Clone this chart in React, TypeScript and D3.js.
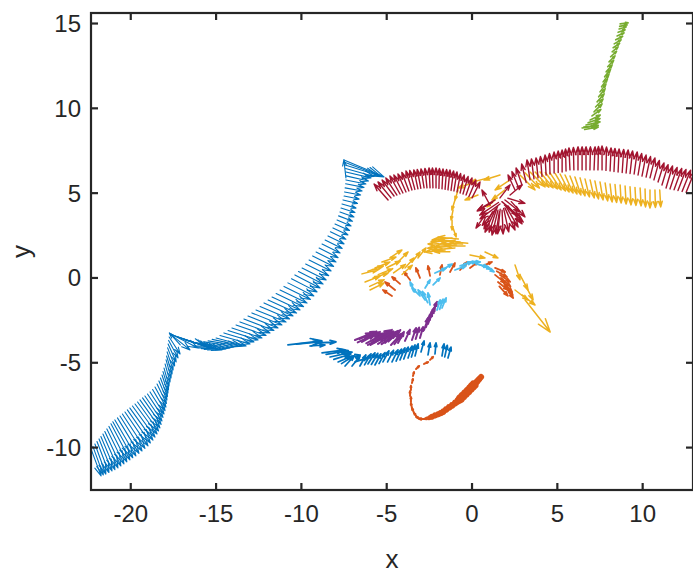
import React from "react";
import * as d3 from "d3";

const W = 693;
const H = 573;

const X_DOMAIN: [number, number] = [-22.33, 12.95];
const Y_DOMAIN: [number, number] = [-12.5, 15.62];
const X_TICKS = [-20, -15, -10, -5, 0, 5, 10];
const Y_TICKS = [-10, -5, 0, 5, 10, 15];
const X_LABEL = "x";
const Y_LABEL = "y";

type Q = [number, number, number, number]; // x, y, u, v

const blueMain: Q[] = [
  [-22.33, -10.08, 0.59, -1.59], [-22.22, -9.93, 0.61, -1.68], [-22.1, -9.79, 0.64, -1.77],
  [-21.98, -9.64, 0.7, -1.83], [-21.86, -9.49, 0.76, -1.89], [-21.75, -9.35, 0.82, -1.95],
  [-21.63, -9.2, 0.88, -2.0], [-21.52, -9.05, 0.94, -2.03], [-21.4, -8.9, 1.0, -2.06],
  [-21.28, -8.75, 1.05, -2.09], [-21.16, -8.6, 1.11, -2.12], [-21.05, -8.48, 1.17, -2.12],
  [-20.93, -8.37, 1.23, -2.12], [-20.78, -8.25, 1.26, -2.09], [-20.63, -8.14, 1.29, -2.06],
  [-20.49, -8.02, 1.32, -2.03], [-20.34, -7.9, 1.35, -2.0], [-20.2, -7.78, 1.35, -1.95],
  [-20.05, -7.67, 1.35, -1.89], [-19.9, -7.55, 1.32, -1.83], [-19.75, -7.43, 1.29, -1.77],
  [-19.6, -7.31, 1.23, -1.71], [-19.46, -7.19, 1.17, -1.65], [-19.31, -7.07, 1.09, -1.56],
  [-19.17, -6.96, 1.0, -1.47], [-19.02, -6.84, 0.91, -1.38], [-18.87, -6.72, 0.82, -1.3],
  [-18.72, -6.58, 0.73, -1.24], [-18.58, -6.43, 0.64, -1.18], [-18.46, -6.25, 0.55, -1.15],
  [-18.35, -6.07, 0.47, -1.12], [-18.26, -5.9, 0.41, -1.09], [-18.17, -5.72, 0.35, -1.06],
  [-18.11, -5.52, 0.32, -1.06], [-18.05, -5.31, 0.29, -1.06], [-17.99, -5.07, 0.29, -1.06],
  [-17.93, -4.83, 0.29, -1.06], [-17.9, -4.6, 0.32, -1.06], [-17.87, -4.36, 0.35, -1.06],
  [-17.84, -4.12, 0.41, -1.06], [-17.81, -3.89, 0.47, -1.06], [-17.78, -3.68, 0.55, -1.03],
  [-17.75, -3.48, 0.64, -1.0], [-17.1, -3.95, -0.64, 0.71],
  [-17.7, -3.3, 1.17, -0.94], [-17.64, -3.3, 1.58, -0.83], [-17.58, -3.36, 1.93, -0.65],
  [-17.4, -3.42, 1.9, -0.65], [-17.23, -3.48, 1.88, -0.65], [-17.02, -3.57, 1.82, -0.59],
  [-16.82, -3.66, 1.76, -0.53], [-16.62, -3.72, 1.76, -0.5], [-16.41, -3.77, 1.76, -0.47],
  [-16.18, -3.8, 1.76, -0.38], [-15.94, -3.83, 1.76, -0.29], [-15.7, -3.77, 1.76, -0.29],
  [-15.47, -3.71, 1.76, -0.29], [-15.23, -3.62, 1.76, -0.38], [-15.0, -3.54, 1.76, -0.47],
  [-14.77, -3.39, 1.76, -0.5], [-14.54, -3.24, 1.76, -0.53], [-14.3, -3.1, 1.76, -0.56],
  [-14.07, -2.95, 1.76, -0.59], [-13.83, -2.77, 1.76, -0.62], [-13.6, -2.59, 1.76, -0.65],
  [-13.37, -2.42, 1.76, -0.68], [-13.13, -2.24, 1.76, -0.71], [-12.9, -2.06, 1.76, -0.71],
  [-12.66, -1.89, 1.76, -0.71], [-12.42, -1.68, 1.73, -0.74], [-12.19, -1.47, 1.7, -0.77],
  [-11.95, -1.3, 1.67, -0.77], [-11.72, -1.12, 1.64, -0.77], [-11.48, -0.92, 1.61, -0.77],
  [-11.25, -0.71, 1.58, -0.77], [-11.02, -0.5, 1.55, -0.77], [-10.79, -0.29, 1.52, -0.77],
  [-10.58, -0.05, 1.5, -0.77], [-10.38, 0.18, 1.47, -0.77], [-10.17, 0.38, 1.44, -0.74],
  [-9.96, 0.59, 1.41, -0.71], [-9.75, 0.82, 1.35, -0.68], [-9.55, 1.06, 1.29, -0.65],
  [-9.34, 1.3, 1.23, -0.62], [-9.14, 1.53, 1.17, -0.59], [-8.96, 1.76, 1.11, -0.56],
  [-8.79, 2.0, 1.06, -0.53], [-8.61, 2.24, 1.0, -0.5], [-8.44, 2.48, 0.94, -0.47],
  [-8.3, 2.72, 0.91, -0.44], [-8.15, 2.95, 0.88, -0.41], [-8.03, 3.18, 0.85, -0.38],
  [-7.91, 3.42, 0.82, -0.35], [-7.82, 3.66, 0.82, -0.32], [-7.74, 3.89, 0.82, -0.29],
  [-7.68, 4.12, 0.82, -0.26], [-7.62, 4.36, 0.82, -0.24], [-7.56, 4.6, 0.85, -0.21],
  [-7.5, 4.83, 0.88, -0.18], [-7.47, 5.07, 0.94, -0.18], [-7.44, 5.31, 1.0, -0.18],
  [-7.41, 5.55, 1.08, -0.21], [-7.39, 5.78, 1.17, -0.24], [-7.39, 6.02, 1.32, -0.3],
  [-7.39, 6.25, 1.47, -0.35], [-7.41, 6.45, 1.67, -0.47], [-7.44, 6.66, 1.88, -0.59],
  [-7.47, 6.82, 2.1, -0.8], [-7.5, 6.96, 2.34, -1.0], [-7.39, 5.9, -0.12, 1.06],
];

const blueSmall: Q[] = [
  [-10.79, -3.95, 1.99, 0.24], [-10.3, -3.9, 1.5, 0.15], [-9.5, -4.01, 0.88, 0.06],
  [-9.03, -3.83, 1.06, 0.06], [-8.79, -4.42, 1.35, 0.18], [-8.55, -4.5, 1.3, 0.22],
  [-8.32, -4.66, 1.29, 0.29], [-8.1, -4.8, 1.0, 0.32], [-7.85, -4.95, 0.82, 0.35],
  [-7.65, -5.05, 0.7, 0.45], [-7.44, -4.72, 0.88, 0.18], [-7.44, -5.19, 0.53, 0.59],
  [-7.03, -5.19, 0.47, 0.59], [-6.86, -4.95, 0.76, 0.24], [-6.57, -5.19, 0.35, 0.65],
  [-6.3, -5.12, 0.38, 0.65], [-6.1, -5.07, 0.41, 0.65], [-5.9, -5.1, 0.38, 0.65],
  [-5.69, -5.13, 0.35, 0.65], [-5.45, -5.05, 0.35, 0.65], [-5.22, -4.95, 0.35, 0.65],
  [-4.95, -4.95, 0.35, 0.68], [-4.69, -4.95, 0.35, 0.71], [-4.45, -4.9, 0.32, 0.71],
  [-4.22, -4.83, 0.29, 0.71], [-4.0, -4.78, 0.26, 0.71], [-3.75, -4.72, 0.24, 0.71],
  [-3.55, -4.66, 0.21, 0.71], [-3.34, -4.6, 0.18, 0.71], [-2.99, -4.36, 0.18, 0.65],
  [-2.58, -4.54, 0.12, 0.71], [-2.17, -4.48, 0.06, 0.65], [-1.76, -4.6, 0.12, 0.71],
  [-1.6, -4.65, 0.15, 0.68], [-1.41, -4.72, 0.18, 0.65],
];

const purple: Q[] = [
  [-6.86, -3.66, 1.0, 0.41], [-6.7, -3.8, 1.05, 0.5], [-6.6, -3.6, 1.0, 0.45],
  [-6.45, -3.77, 1.06, 0.59], [-6.27, -3.54, 1.0, 0.24], [-6.2, -3.85, 1.1, 0.6],
  [-6.1, -3.95, 1.06, 0.59], [-5.95, -3.95, 1.1, 0.62], [-5.86, -3.71, 1.17, 0.65],
  [-5.7, -3.8, 1.1, 0.65], [-5.51, -3.89, 1.0, 0.65], [-5.3, -3.9, 0.9, 0.68],
  [-5.1, -3.83, 0.76, 0.71], [-4.9, -3.75, 0.7, 0.68], [-4.75, -3.95, 0.59, 0.65],
  [-4.55, -3.9, 0.5, 0.65], [-4.34, -3.83, 0.35, 0.65], [-3.93, -3.71, 0.29, 0.65],
  [-3.52, -3.66, 0.24, 0.71], [-3.3, -3.6, 0.2, 0.68], [-3.05, -3.54, 0.18, 0.65],
  [-2.81, -3.07, 0.24, 0.71], [-2.7, -2.9, 0.24, 0.7], [-2.58, -2.71, 0.24, 0.71],
  [-2.5, -2.5, 0.27, 0.68], [-2.46, -2.36, 0.29, 0.65], [-2.34, -2.06, 0.29, 0.65],
];

const lightBlue: Q[] = [
  [-2.05, -1.89, 0.18, 0.59], [-1.9, -1.85, 0.2, 0.6], [-1.76, -1.77, 0.24, 0.59],
  [-2.46, -1.59, -0.12, 0.71], [-2.6, -1.45, -0.3, 0.65], [-2.75, -1.3, -0.41, 0.59],
  [-3.05, -1.06, -0.47, 0.47], [-3.34, -0.83, -0.29, 0.59], [-2.75, -0.59, 0.29, 0.47],
  [-2.28, -0.41, 0.41, 0.41], [-2.17, 0.29, 0.65, 0.29], [-1.76, 0.47, 0.59, 0.35],
  [-1.0, 0.47, 0.65, 0.24], [-0.7, 0.71, 0.71, 0.24], [-0.45, 0.85, 0.7, 0.1],
  [-0.23, 0.94, 0.71, 0.0], [0.23, 0.83, 0.71, -0.18], [0.45, 0.78, 0.65, -0.25],
  [0.7, 0.71, 0.59, -0.35],
];

const orangeUpper: Q[] = [
  [-4.51, -0.71, -0.59, 0.47], [-4.69, -1.06, -0.53, 0.35], [-4.22, -0.35, -0.47, 0.41],
  [-3.63, -0.12, -0.35, 0.47], [-3.05, 0.0, -0.24, 0.59], [-2.46, 0.12, -0.12, 0.59],
  [-1.88, 0.18, 0.12, 0.59], [-1.29, 0.35, 0.29, 0.53], [-0.7, 0.47, 0.41, 0.47],
  [-0.12, 0.59, 0.47, 0.35], [0.64, 0.71, 0.53, 0.24], [1.35, 0.59, 0.59, -0.24],
  [1.64, 0.18, 0.59, -0.41], [1.82, -0.24, 0.53, -0.59], [2.0, -0.59, 0.41, -0.59],
  [1.52, -0.24, 0.59, -0.47], [1.35, 0.18, 0.59, -0.47], [1.7, 0.0, 0.55, -0.5],
  [1.9, -0.4, 0.48, -0.6], [1.45, 0.4, 0.6, -0.35], [1.6, -0.5, 0.5, -0.55],
];

const orangeTrackThick: Q[] = [
  [0.53, -5.84, -0.59, -0.65], [0.41, -5.98, -0.59, -0.62], [0.29, -6.13, -0.59, -0.59],
  [0.15, -6.28, -0.59, -0.59], [0.0, -6.43, -0.59, -0.59], [-0.15, -6.58, -0.59, -0.59],
  [-0.29, -6.72, -0.59, -0.59],
];

const orangeTrackMid: Q[] = [
  [-0.44, -6.87, -0.59, -0.56], [-0.59, -7.02, -0.59, -0.53], [-0.76, -7.17, -0.59, -0.5],
  [-0.94, -7.31, -0.59, -0.47], [-1.12, -7.46, -0.59, -0.44], [-1.29, -7.61, -0.59, -0.41],
  [-1.46, -7.73, -0.56, -0.35], [-1.64, -7.84, -0.53, -0.29], [-1.82, -7.93, -0.53, -0.26],
  [-1.99, -8.02, -0.53, -0.24],
];

const orangeTrackThin: Q[] = [
  [-2.17, -8.11, -0.5, -0.18], [-2.34, -8.2, -0.47, -0.12], [-2.7, -8.31, -0.41, 0.0],
  [-2.99, -8.31, -0.29, 0.12], [-3.22, -8.2, -0.18, 0.24], [-3.4, -7.96, -0.12, 0.29],
  [-3.52, -7.67, -0.06, 0.29], [-3.58, -7.31, 0.0, 0.29], [-3.63, -6.96, 0.0, 0.29],
  [-3.58, -6.6, 0.0, 0.24], [-3.52, -6.19, 0.06, 0.24], [-3.46, -5.78, 0.06, 0.24],
  [-3.28, -5.37, 0.18, 0.18], [-2.81, -5.07, 0.24, 0.12], [-2.46, -4.83, 0.18, 0.18],
];

const yellow: Q[] = [
  // left arm
  [-6.45, 0.24, 0.94, 0.24], [-6.27, -0.24, 0.88, 0.35], [-5.98, -0.71, 0.82, 0.41],
  [-5.69, 0.59, 0.88, 0.35], [-5.28, 0.94, 0.82, 0.29], [-4.81, 1.18, 0.7, 0.47],
  [-4.34, 0.94, 0.59, 0.59], [-3.93, 0.59, 0.53, 0.59], [-3.52, 0.94, 0.47, 0.59],
  [-3.17, 1.18, 0.47, 0.59], [-5.8, 0.0, 0.88, 0.29], [-6.1, 0.4, 0.9, 0.3],
  [-6.0, -0.5, 0.85, 0.4], [-5.5, 0.2, 0.85, 0.35], [-5.0, 0.6, 0.8, 0.4],
  [-4.6, 0.3, 0.7, 0.5], [-4.1, 0.2, 0.6, 0.55],
  // middle blob
  [-1.29, 2.0, -1.29, 0.0], [-1.0, 1.77, -1.35, -0.12], [-0.7, 2.12, -1.29, 0.12],
  [-1.58, 1.65, -1.17, -0.12], [-0.41, 1.89, -1.17, 0.0], [-1.17, 2.36, -1.17, -0.12],
  [-1.1, 2.2, -1.3, -0.05], [-0.9, 1.95, -1.3, -0.1], [-0.55, 2.0, -1.25, 0.05],
  [-1.4, 1.85, -1.2, -0.1], [-0.25, 2.05, -1.1, 0.1], [-0.8, 2.3, -1.2, 0.1],
  [-1.3, 1.55, -0.9, 0.0],
  // stem
  [-0.82, 5.19, -0.18, -0.59], [-1.0, 4.6, -0.18, -0.59], [-1.11, 4.01, -0.12, -0.59],
  [-1.17, 3.42, 0.0, -0.59], [-1.11, 2.95, 0.18, -0.53],
  // upper cluster
  [0.18, 5.66, -1.0, -0.35], [0.94, 5.9, -1.06, -0.29], [1.64, 6.07, -0.94, -0.29],
  [2.23, 5.78, -0.88, -0.59], [0.35, 4.89, -0.76, -0.29], [1.93, 5.19, -0.76, -0.59],
  [1.35, 4.6, -0.47, -0.41],
  // right arc
  [2.81, 6.07, 0.88, -0.88], [3.1, 6.2, 0.85, -0.9], [3.4, 6.25, 0.88, -0.88],
  [3.7, 6.25, 0.8, -0.9], [3.99, 6.25, 0.76, -0.94], [4.3, 6.22, 0.7, -0.97],
  [4.57, 6.19, 0.65, -1.0], [4.87, 6.16, 0.6, -1.03], [5.16, 6.13, 0.53, -1.06],
  [5.45, 6.07, 0.47, -1.06], [5.74, 6.01, 0.41, -1.06], [6.03, 5.95, 0.35, -1.06],
  [6.33, 5.9, 0.29, -1.06], [6.62, 5.84, 0.26, -1.06], [6.92, 5.78, 0.24, -1.06],
  [7.2, 5.72, 0.21, -1.06], [7.5, 5.66, 0.18, -1.06], [7.8, 5.6, 0.15, -1.06],
  [8.09, 5.54, 0.12, -1.06], [8.38, 5.51, 0.09, -1.06], [8.68, 5.48, 0.06, -1.06],
  [8.97, 5.42, 0.06, -1.06], [9.26, 5.37, 0.06, -1.06], [9.55, 5.34, 0.06, -1.06],
  [9.85, 5.31, 0.06, -1.06], [10.14, 5.25, 0.03, -1.06], [10.43, 5.19, 0.0, -1.06],
  [10.72, 5.19, 0.03, -1.03], [11.0, 5.19, 0.06, -1.0],
  // right arm
  [2.52, 0.77, 0.29, -0.88], [2.81, 0.18, 0.47, -0.88], [3.11, -0.41, 0.47, -0.88],
  [2.93, -1.0, 0.76, -0.59], [3.11, -1.3, 1.47, -1.89], [2.52, -0.71, 0.76, -0.59],
  [-0.12, 1.36, 0.88, -0.18], [0.76, 1.53, 0.76, -0.35],
];

const red: Q[] = [
  // left arc
  [-4.92, 4.6, -0.82, 0.94], [-4.75, 4.72, -0.76, 0.94], [-4.57, 4.83, -0.7, 0.94],
  [-4.4, 4.89, -0.65, 1.0], [-4.22, 4.95, -0.59, 1.06], [-4.05, 5.01, -0.53, 1.06],
  [-3.87, 5.07, -0.47, 1.06], [-3.7, 5.13, -0.41, 1.09], [-3.52, 5.19, -0.35, 1.12],
  [-3.35, 5.22, -0.3, 1.12], [-3.17, 5.25, -0.24, 1.12], [-3.0, 5.28, -0.21, 1.12],
  [-2.81, 5.31, -0.18, 1.12], [-2.64, 5.31, -0.12, 1.15], [-2.46, 5.31, -0.06, 1.18],
  [-2.29, 5.31, -0.03, 1.18], [-2.11, 5.31, 0.0, 1.18], [-1.94, 5.28, 0.03, 1.18],
  [-1.76, 5.25, 0.06, 1.18], [-1.58, 5.22, 0.09, 1.18], [-1.41, 5.19, 0.12, 1.18],
  [-1.23, 5.16, 0.15, 1.15], [-1.06, 5.13, 0.18, 1.12], [-0.88, 5.07, 0.21, 1.09],
  [-0.7, 5.01, 0.24, 1.06], [-0.53, 4.95, 0.3, 1.03], [-0.35, 4.89, 0.35, 1.0],
  [-0.18, 4.8, 0.41, 0.97], [0.0, 4.72, 0.47, 0.94],
  // central blob
  [1.35, 4.0, -0.59, -1.3], [1.45, 4.1, -0.45, -1.4], [1.52, 4.0, -0.35, -1.47],
  [1.65, 4.05, -0.15, -1.45], [1.76, 4.0, 0.06, -1.41], [1.85, 4.1, 0.3, -1.38],
  [1.93, 4.13, 0.59, -1.3], [2.0, 4.2, 0.7, -1.2], [2.11, 4.25, 0.82, -1.06],
  [1.64, 4.36, -1.17, -0.88], [1.55, 4.45, -1.1, -0.75], [1.35, 4.6, -1.0, -0.59],
  [1.2, 4.45, -0.9, -0.5], [1.93, 4.6, 0.88, -0.71], [1.75, 4.5, 1.0, -0.85],
  [2.1, 4.7, 1.0, -0.3], [1.64, 4.72, 0.59, 0.77], [1.05, 4.3, -0.47, 0.88],
  [2.23, 4.89, 0.7, 0.59], [0.76, 3.71, -0.53, -0.77], [1.5, 4.2, -0.9, -1.1],
  [1.9, 4.3, 1.1, -1.0], [1.2, 3.9, -0.5, -1.0], [1.6, 3.9, -0.2, -1.3],
  [2.3, 4.5, 0.8, -0.9],
  // right arc
  [2.52, 5.19, -0.41, 0.88], [2.72, 5.33, -0.38, 0.94], [2.93, 5.48, -0.35, 1.0],
  [3.17, 5.63, -0.26, 1.09], [3.4, 5.78, -0.18, 1.18], [3.63, 5.84, -0.15, 1.18],
  [3.87, 5.9, -0.12, 1.18], [4.1, 5.98, -0.09, 1.18], [4.34, 6.07, -0.06, 1.18],
  [4.57, 6.13, -0.03, 1.21], [4.81, 6.19, 0.0, 1.24], [5.05, 6.22, 0.0, 1.27],
  [5.28, 6.25, 0.0, 1.3], [5.51, 6.31, -0.03, 1.3], [5.74, 6.37, -0.06, 1.3],
  [5.97, 6.37, -0.03, 1.33], [6.21, 6.37, 0.0, 1.36], [6.45, 6.37, 0.0, 1.36],
  [6.68, 6.37, 0.0, 1.36], [6.91, 6.37, 0.03, 1.36], [7.15, 6.37, 0.06, 1.36],
  [7.38, 6.37, 0.03, 1.38], [7.62, 6.37, 0.0, 1.41], [7.85, 6.34, 0.03, 1.38],
  [8.09, 6.31, 0.06, 1.36], [8.32, 6.28, 0.06, 1.36], [8.56, 6.25, 0.06, 1.36],
  [8.8, 6.22, 0.09, 1.36], [9.03, 6.19, 0.12, 1.36], [9.26, 6.16, 0.15, 1.33],
  [9.5, 6.13, 0.18, 1.3], [9.73, 6.07, 0.21, 1.27], [9.96, 6.01, 0.24, 1.24],
  [10.2, 5.95, 0.26, 1.21], [10.43, 5.9, 0.29, 1.18], [10.66, 5.78, 0.32, 1.15],
  [10.9, 5.66, 0.35, 1.12], [11.13, 5.48, 0.36, 1.2], [11.37, 5.3, 0.38, 1.3],
  [11.6, 5.25, 0.42, 1.27], [11.84, 5.2, 0.45, 1.25], [12.07, 5.15, 0.47, 1.25],
  [12.31, 5.1, 0.5, 1.25], [12.55, 5.05, 0.5, 1.25],
];

const green: Q[] = [
  [6.45, 8.84, 0.82, 0.12], [6.55, 8.9, 0.85, 0.1], [6.6, 8.75, 0.8, 0.15],
  [6.68, 9.02, 0.82, 0.18], [6.8, 9.15, 0.7, 0.25], [6.92, 9.31, 0.59, 0.29],
  [7.03, 9.55, 0.52, 0.38], [7.15, 9.79, 0.47, 0.47], [7.24, 10.08, 0.44, 0.47],
  [7.33, 10.38, 0.41, 0.47], [7.42, 10.68, 0.38, 0.47], [7.5, 10.97, 0.35, 0.47],
  [7.59, 11.27, 0.35, 0.47], [7.68, 11.56, 0.35, 0.47], [7.77, 11.86, 0.35, 0.44],
  [7.86, 12.15, 0.35, 0.41], [7.95, 12.45, 0.35, 0.38], [8.03, 12.74, 0.35, 0.35],
  [8.12, 13.04, 0.35, 0.32], [8.21, 13.33, 0.35, 0.29], [8.27, 13.57, 0.38, 0.26],
  [8.33, 13.8, 0.41, 0.24], [8.42, 14.04, 0.41, 0.21], [8.5, 14.27, 0.41, 0.18],
  [8.56, 14.48, 0.41, 0.15], [8.62, 14.68, 0.41, 0.12], [8.65, 14.83, 0.44, 0.09],
  [8.68, 14.98, 0.47, 0.06],
];

const SERIES = [
  { name: "blueMain", data: blueMain, color: "#0072BD", width: 1.1 },
  { name: "orangeUpper", data: orangeUpper, color: "#D95319", width: 1.8 },
  { name: "yellow", data: yellow, color: "#EDB120", width: 1.5 },
  { name: "purple", data: purple, color: "#7E2F8E", width: 2 },
  { name: "green", data: green, color: "#77AC30", width: 1.6 },
  { name: "lightBlue", data: lightBlue, color: "#4DBEEE", width: 1.8 },
  { name: "red", data: red, color: "#A2142F", width: 1.4 },
  { name: "blueSmall", data: blueSmall, color: "#0072BD", width: 1.7 },
  { name: "orangeThick", data: orangeTrackThick, color: "#D95319", width: 6 },
  { name: "orangeMid", data: orangeTrackMid, color: "#D95319", width: 4 },
  { name: "orangeThin", data: orangeTrackThin, color: "#D95319", width: 2 },
];

const L = 91, R = 693, T = 13, B = 490;

export default function App() {
  const x = d3.scaleLinear().domain(X_DOMAIN).range([L, R]);
  const y = d3.scaleLinear().domain(Y_DOMAIN).range([B, T]);

  const arrowPath = (q: Q) => {
    const x0 = x(q[0]), y0 = y(q[1]);
    const x1 = x(q[0] + q[2]), y1 = y(q[1] + q[3]);
    const dx = x1 - x0, dy = y1 - y0;
    const a = 0.33, b = 0.33;
    const h1x = x1 - a * (dx + b * dy), h1y = y1 - a * (dy - b * dx);
    const h2x = x1 - a * (dx - b * dy), h2y = y1 - a * (dy + b * dx);
    const p = d3.path();
    p.moveTo(x0, y0); p.lineTo(x1, y1);
    p.moveTo(h1x, h1y); p.lineTo(x1, y1); p.lineTo(h2x, h2y);
    return p.toString();
  };

  const axisColor = "#262626";
  const font = "'Liberation Sans', Arial, sans-serif";
  const tl = 7;

  return (
    <svg width={W} height={H} style={{ position: "fixed", left: 0, top: 0, background: "#fff" }}>
      <defs>
        <clipPath id="plotclip">
          <rect x={L} y={T} width={R - L} height={B - T} />
        </clipPath>
      </defs>
      <rect x={0} y={0} width={W} height={H} fill="#fff" />
      <g clipPath="url(#plotclip)">
        {SERIES.map((s) => (
          <g key={s.name} stroke={s.color} strokeWidth={s.width} fill="none" strokeLinecap="round" strokeLinejoin="round">
            {s.data.map((q, i) => (
              <path key={i} d={arrowPath(q)} />
            ))}
          </g>
        ))}
      </g>
      <g stroke={axisColor} strokeWidth={2.2} fill="none">
        <rect x={L} y={T} width={R - L} height={B - T} />
        {X_TICKS.map((t) => (
          <g key={"xt" + t}>
            <line x1={x(t)} x2={x(t)} y1={B} y2={B - tl} />
            <line x1={x(t)} x2={x(t)} y1={T} y2={T + tl} />
          </g>
        ))}
        {Y_TICKS.map((t) => (
          <g key={"yt" + t}>
            <line x1={L} x2={L + tl} y1={y(t)} y2={y(t)} />
            <line x1={R} x2={R - tl} y1={y(t)} y2={y(t)} />
          </g>
        ))}
      </g>
      <g fill={axisColor} fontFamily={font} fontSize={24}>
        {X_TICKS.map((t) => (
          <text key={"xl" + t} x={x(t)} y={B + 32} textAnchor="middle">
            {t < 0 ? "-" + Math.abs(t) : String(t)}
          </text>
        ))}
        {Y_TICKS.map((t) => (
          <text key={"yl" + t} x={L - 10} y={y(t)} dy="0.35em" textAnchor="end">
            {t < 0 ? "-" + Math.abs(t) : String(t)}
          </text>
        ))}
        <text x={(L + R) / 2} y={568} textAnchor="middle" fontSize={26}>{X_LABEL}</text>
        <text transform={`translate(${30},${(T + B) / 2}) rotate(-90)`} textAnchor="middle" fontSize={26}>{Y_LABEL}</text>
      </g>
    </svg>
  );
}
